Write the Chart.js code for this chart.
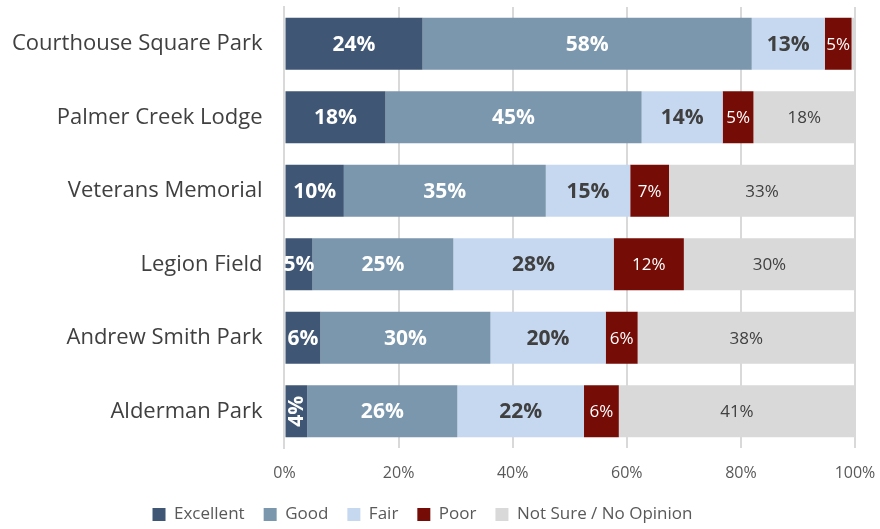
<!DOCTYPE html>
<html>
<head>
<meta charset="utf-8">
<script src="https://cdn.jsdelivr.net/npm/chart.js@4"></script>
<style>
  html, body { margin: 0; padding: 0; background: #fff; }
  #wrap { width: 880px; height: 529px; }
</style>
</head>
<body>
<div id="wrap"><canvas id="parkChart"></canvas></div>
<script>
const parks = ["Courthouse Square Park", "Palmer Creek Lodge", "Veterans Memorial", "Legion Field", "Andrew Smith Park", "Alderman Park"];
const excellent = [24.2, 17.7, 10.4, 4.9, 6.3, 4.0];
const good = [57.7, 44.9, 35.4, 24.7, 29.8, 26.3];
const fair = [12.8, 14.2, 14.8, 28.1, 20.2, 22.2];
const poor = [4.7, 5.4, 6.8, 12.3, 5.6, 6.1];
const notSure = [0.6, 17.8, 32.6, 30.0, 38.1, 41.4];
const xTicks = ["0%", "20%", "40%", "60%", "80%", "100%"];

const FONT = "'Open Sans', sans-serif";

// label style per series
const labelStyles = [
  { color: "#ffffff", weight: "bold", size: 21 },
  { color: "#ffffff", weight: "bold", size: 21 },
  { color: "#404040", weight: "bold", size: 21 },
  { color: "#ffffff", weight: "normal", size: 17 },
  { color: "#404040", weight: "normal", size: 17 }
];

const barLabels = {
  id: "barLabels",
  afterDatasetsDraw(chart) {
    const ctx = chart.ctx;
    chart.data.datasets.forEach((ds, i) => {
      const meta = chart.getDatasetMeta(i);
      const st = labelStyles[i];
      meta.data.forEach((bar, j) => {
        const v = ds.data[j];
        if (v < 1) return;
        const txt = Math.round(v) + "%";
        const cx = (bar.x + bar.base) / 2;
        const w = Math.abs(bar.x - bar.base);
        ctx.save();
        ctx.font = st.weight + " " + st.size + "px " + FONT;
        ctx.fillStyle = st.color;
        ctx.textAlign = "center";
        ctx.textBaseline = "middle";
        ctx.translate(cx, bar.y);
        // very thin segments get a vertical label
        if (w < 25) ctx.rotate(-Math.PI / 2);
        ctx.fillText(txt, 0, 1);
        ctx.restore();
      });
    });
  }
};

// fixed legend height so the plot keeps its place
const legendHeight = {
  id: "legendHeight",
  beforeInit(chart) {
    const fit = chart.legend.fit;
    chart.legend.fit = function () {
      fit.call(this);
      this.height = 42;
    };
  }
};

const ctx = document.getElementById("parkChart").getContext("2d");

new Chart(ctx, {
  type: "bar",
  data: {
    labels: parks,
    datasets: [
      { label: "Excellent", data: excellent, backgroundColor: "#3F5675" },
      { label: "Good", data: good, backgroundColor: "#7A97AD" },
      { label: "Fair", data: fair, backgroundColor: "#C6D8F0" },
      { label: "Poor", data: poor, backgroundColor: "#760C06" },
      { label: "Not Sure / No Opinion", data: notSure, backgroundColor: "#D9D9D9" }
    ]
  },
  options: {
    indexAxis: "y",
    responsive: true,
    maintainAspectRatio: false,
    animation: false,
    barPercentage: 0.71,
    categoryPercentage: 1,
    layout: { padding: { top: 7, right: 25, left: -10, bottom: 0 } },
    plugins: {
      legend: {
        position: "bottom",
        labels: {
          color: "#595959",
          font: { family: FONT, size: 17 },
          boxWidth: 13,
          boxHeight: 13,
          padding: 19,
          useBorderRadius: false
        }
      },
      tooltip: { enabled: false }
    },
    scales: {
      x: {
        stacked: true,
        min: 0,
        max: 100,
        afterFit(scale) {
          scale.height = 39;
          scale.paddingRight = 0;
        },
        ticks: {
          stepSize: 20,
          color: "#595959",
          font: { family: FONT, size: 16 },
          padding: 16,
          callback: (v, i) => xTicks[i]
        },
        grid: { color: "#D9D9D9", lineWidth: 2, drawTicks: false },
        border: { display: false }
      },
      y: {
        stacked: true,
        afterFit(scale) {
          scale.paddingTop = 0;
          scale.paddingBottom = 0;
        },
        ticks: {
          color: "#404040",
          font: { family: FONT, size: 22 },
          padding: 22
        },
        grid: { display: false, drawTicks: false },
        border: { display: true, color: "#D9D9D9", width: 2 }
      }
    }
  },
  plugins: [barLabels, legendHeight]
});
</script>
</body>
</html>
